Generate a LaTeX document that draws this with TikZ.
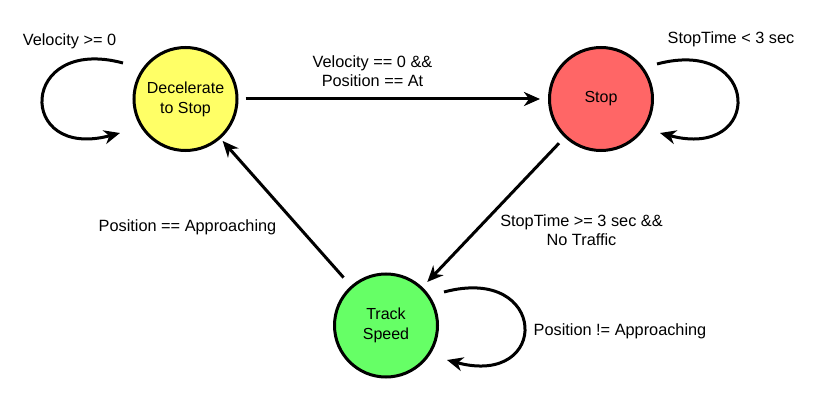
\documentclass[tikz,border=0pt]{standalone}
\usepackage{fontspec}
\setmainfont{Liberation Sans}
\usetikzlibrary{arrows.meta,calc}
\definecolor{cyellow}{HTML}{FFFF66}
\definecolor{cred}{HTML}{FF6666}
\definecolor{cgreen}{HTML}{66FF66}
\begin{document}
\begin{tikzpicture}[x=1pt,y=1pt,
  state/.style={circle,draw=black,line width=3pt,minimum size=103pt,inner sep=0pt,align=center,font=\fontsize{16}{20}\selectfont},
  lbl/.style={align=center,inner sep=0pt,font=\fontsize{16.3}{19}\selectfont},
  arr/.style={line width=3pt,-{Stealth[length=16pt,width=14pt,inset=5pt]}}]
\useasboundingbox (0,0) rectangle (815,400);
\node[state,fill=cyellow] (dec) at (185.5,301) {Decelerate\\to Stop};
\node[state,fill=cred] (stop) at (601,301) {Stop};
\node[state,fill=cgreen] (track) at (386,74.5) {Track\\Speed};
% straight transitions
\draw[arr,shorten <=7pt,shorten >=8pt] (dec) -- (stop);
\draw[arr,shorten <=8pt,shorten >=7pt] (stop) -- (track);
\draw[arr,shorten <=11pt,shorten >=3pt] (track) -- (dec);
% self loops
\coordinate (ds) at ($(dec)+(-62.5,36)$);
\coordinate (de) at ($(dec)+(-65.5,-34)$);
\coordinate (ss) at ($(stop)+(56,35)$);
\coordinate (se) at ($(stop)+(59,-34)$);
\coordinate (ts) at ($(track)+(58,33.5)$);
\coordinate (te) at ($(track)+(61,-34.5)$);
\draw[arr] (ds) .. controls +(165:108) and +(195:108) .. (de);
\draw[arr] (ss) .. controls +(15:108) and +(-15:108) .. (se);
\draw[arr] (ts) .. controls +(15:108) and +(-15:108) .. (te);
% labels
\node[lbl] (l1) at (69.5,359) {Velocity >= 0};
\node[lbl] (l2) at (731,361) {StopTime < 3 sec};
\node[lbl] (l3) at (372.5,329) {Velocity == 0 \&\&\\Position == At};
\node[lbl] (l4) at (187.5,173) {Position == Approaching};
\node[lbl] (l5) at (581.5,169.5) {StopTime >= 3 sec \&\&\\No Traffic};
\node[lbl] (l6) at (620,68.5) {Position != Approaching};
\end{tikzpicture}
\end{document}
